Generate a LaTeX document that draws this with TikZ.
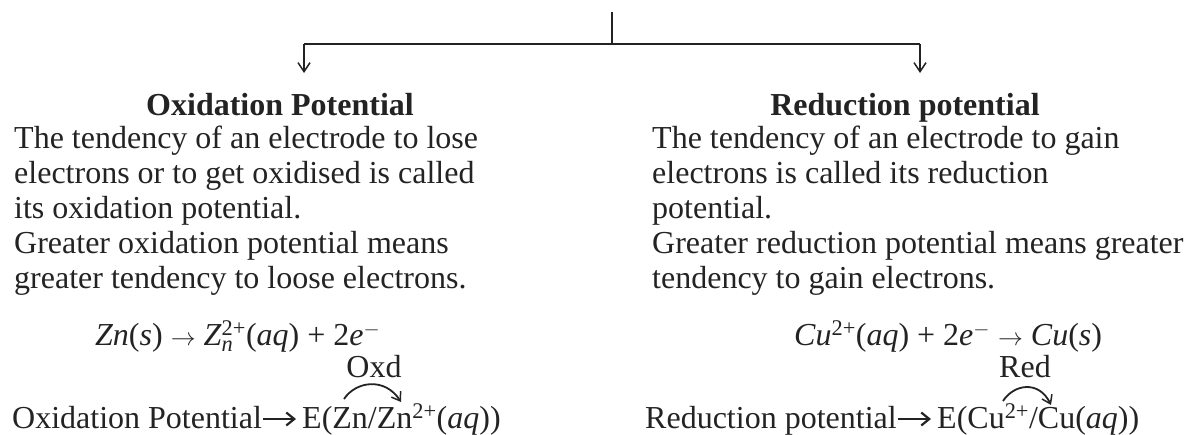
\documentclass[tikz,border=0pt]{standalone}
\usepackage{fontspec}
\setmainfont{Liberation Serif}
\usepackage{amsmath}
\usetikzlibrary{arrows.meta}
\definecolor{ink}{RGB}{35,35,35}
\begin{document}
\begin{tikzpicture}[x=1pt,y=-1pt,
  txt/.style={font=\fontsize{32}{35}\selectfont, text=ink, inner sep=0pt, anchor=base west},
  ctxt/.style={font=\fontsize{32}{35}\selectfont, text=ink, inner sep=0pt, anchor=base},
  ttl/.style={font=\fontsize{32}{35}\selectfont\bfseries, text=ink, inner sep=0pt, anchor=base},
  conn/.style={line width=1.8pt, draw=ink},
  arr/.style={conn, -{Straight Barb[length=9pt,width=12pt,line width=1.5pt]}},
  barr/.style={line width=2.6pt, draw=ink, -{Straight Barb[length=8pt,width=13pt,line width=2.2pt]}},
  curv/.style={line width=1.8pt, draw=ink, -{Straight Barb[length=8pt,width=11pt,line width=1.5pt]}}]
\useasboundingbox (0,0) rectangle (1189,434);

% top connector
\coordinate (top) at (612,12);
\coordinate (mid) at (612,44);
\coordinate (lc) at (304,44);
\coordinate (rc) at (920,44);
\coordinate (la) at (304,73);
\coordinate (ra) at (920,73);
\draw[conn] (top) -- (mid);
\draw[conn] (lc) -- (rc);
\draw[arr] (lc) -- (la);
\draw[arr] (rc) -- (ra);

% titles
\node[ttl] (lt) at (280,115) {Oxidation Potential};
\node[ttl] (rt) at (905,115) {Reduction potential};

% left body
\node[txt] (l1) at (14,148) {The tendency of an electrode to lose};
\node[txt] (l2) at (14,183) {electrons or to get oxidised is called};
\node[txt] (l3) at (14,218) {its oxidation potential.};
\node[txt] (l4) at (14,253) {Greater oxidation potential means};
\node[txt] (l5) at (14,288) {greater tendency to loose electrons.};

% right body
\node[txt] (r1) at (652,148) {The tendency of an electrode to gain};
\node[txt] (r2) at (652,183) {electrons is called its reduction};
\node[txt] (r3) at (652,218) {potential.};
\node[txt] (r4) at (652,253) {Greater reduction potential means greater};
\node[txt] (r5) at (652,288) {tendency to gain electrons.};

% left equations
\node[txt] (leq) at (95,345) {\textit{Zn}(\textit{s}) $\rightarrow$ \textit{Z}$^{\text{2+}}_{\textit{n}}$(\textit{aq}) + 2\textit{e}$^{-}$};
\node[ctxt] (oxd) at (374,377) {Oxd};
\node[txt] (lbA) at (12,428) {Oxidation Potential};
\node[txt] (lbB) at (302,428) {E(Zn/Zn$^{\text{2+}}$(\textit{aq}))};
\draw[barr] ([shift={(1pt,9pt)}]lbA.base east) -- ([shift={(-6pt,9pt)}]lbB.base west);
\coordinate (oxs) at (344,399);
\coordinate (oxe) at (401,402);
\draw[curv] (oxs) .. controls (356,381) and (385,377) .. (oxe);

% right equations
\node[txt] (req) at (794,345) {\textit{Cu}$^{\text{2+}}$(\textit{aq}) + 2\textit{e}$^{-}$ $\rightarrow$ \textit{Cu}(\textit{s})};
\node[ctxt] (red) at (1025,377) {Red};
\node[txt] (rbA) at (645,428) {Reduction potential};
\node[txt] (rbB) at (937,428) {E(Cu$^{\text{2+}}$/Cu(\textit{aq}))};
\draw[barr] ([shift={(1pt,9pt)}]rbA.base east) -- ([shift={(-6pt,9pt)}]rbB.base west);
\coordinate (rds) at (1003,401);
\coordinate (rde) at (1051,405);
\draw[curv] (rds) .. controls (1014,384) and (1039,380) .. (rde);
\end{tikzpicture}
\end{document}
